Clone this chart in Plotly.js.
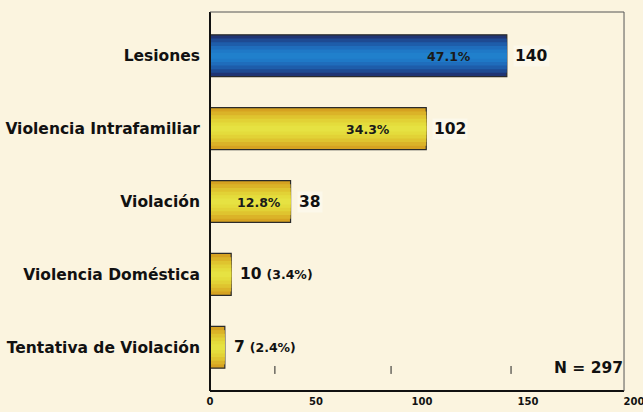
<!DOCTYPE html>
<html>
<head>
<meta charset="utf-8">
<script src="https://cdn.plot.ly/plotly-3.0.1.min.js"></script>
<style>html,body{margin:0;padding:0;background:#FBF4DF;}#chart{width:643px;height:412px;}</style>
</head>
<body>
<div id="chart"></div>
<script>
const categories = ["Lesiones", "Violencia Intrafamiliar", "Violación", "Violencia Doméstica", "Tentativa de Violación"];
const counts = [140, 102, 38, 10, 7];
const percents = [47.1, 34.3, 12.8, 3.4, 2.4];
const tickValues = [0, 50, 100, 150, 200];
const totalN = 297;

const bluePalette = ["#1F3474", "#1E4A92", "#1E5DAA", "#1F6DBC", "#1F79C7", "#2080CC"];
const goldPalette = ["#D6A221", "#DBB328", "#DFC42F", "#E2D236", "#E4DC3C", "#E6E242"];
const widths = [0.575, 0.47, 0.37, 0.27, 0.17, 0.08];

const traces = widths.map((w, i) => ({
  type: "bar",
  orientation: "h",
  x: counts,
  y: categories,
  width: w,
  marker: {
    color: counts.map((c, j) => j === 0 ? bluePalette[i] : goldPalette[i]),
    line: {width: i === 0 ? 1.2 : 0, color: "#2a2a2a"}
  },
  hoverinfo: "skip",
  showlegend: false
}));

const annotations = [];
categories.forEach((cat, j) => {
  const inside = percents[j] > 10;
  if (inside) {
    annotations.push({
      x: counts[j], y: cat, xref: "x", yref: "y",
      text: "<b>" + percents[j].toFixed(1) + "%</b>",
      xanchor: "right", xshift: counts[j] > 50 ? -34 : -8, yshift: -1,
      showarrow: false,
      font: {family: "DejaVu Sans", size: 12.5, color: "#1a1a1a"}
    });
    annotations.push({
      x: counts[j], y: cat, xref: "x", yref: "y",
      text: "<b>" + counts[j] + "</b>",
      xanchor: "left", xshift: 6, yshift: 0,
      showarrow: false, bgcolor: "#FCF8EA",
      font: {family: "DejaVu Sans", size: 15.5, color: "#111"}
    });
  } else {
    annotations.push({
      x: counts[j], y: cat, xref: "x", yref: "y",
      text: "<b>" + counts[j] + "</b> <b><span style='font-size:12.5px'>(" + percents[j].toFixed(1) + "%)</span></b>",
      xanchor: "left", xshift: 7, yshift: 0,
      showarrow: false,
      font: {family: "DejaVu Sans", size: 15.5, color: "#111"}
    });
  }
});
annotations.push({
  x: 0.971, y: 0.061, xref: "paper", yref: "paper",
  text: "<b>N = " + totalN + "</b>",
  xanchor: "right", yanchor: "middle", showarrow: false,
  font: {family: "DejaVu Sans", size: 15.5, color: "#111"}
});

const fx = 0.9696;
const shapes = [
  {type: "line", xref: "paper", yref: "paper", x0: 0, x1: 0, y0: 0, y1: 1, line: {color: "#111", width: 2}},
  {type: "line", xref: "paper", yref: "paper", x0: 0, x1: fx, y0: 0, y1: 0, line: {color: "#111", width: 2}},
  {type: "line", xref: "paper", yref: "paper", x0: 0, x1: fx, y0: 1, y1: 1, line: {color: "#555", width: 1}},
  {type: "line", xref: "paper", yref: "paper", x0: fx, x1: fx, y0: 0, y1: 1, line: {color: "#555", width: 1}},
  {type: "line", xref: "paper", yref: "paper", x0: 0.152, x1: 0.152, y0: 0.045, y1: 0.066, line: {color: "#222", width: 1}},
  {type: "line", xref: "paper", yref: "paper", x0: 0.424, x1: 0.424, y0: 0.045, y1: 0.066, line: {color: "#222", width: 1}},
  {type: "line", xref: "paper", yref: "paper", x0: 0.705, x1: 0.705, y0: 0.045, y1: 0.066, line: {color: "#222", width: 1}}
];

const layout = {
  width: 643, height: 412,
  paper_bgcolor: "#FBF4DF", plot_bgcolor: "#FBF4DF",
  margin: {l: 210, r: 6, t: 12, b: 21},
  barmode: "overlay",
  showlegend: false,
  xaxis: {
    range: [0, 201.4], tickvals: tickValues, ticktext: tickValues.map(v => "<b>" + v + "</b>"),
    showgrid: false, zeroline: false, showline: false, ticks: "",
    ticklabeloverflow: "allow",
    tickfont: {family: "DejaVu Sans", size: 10, color: "#111"}, ticklabelstandoff: 3, fixedrange: true
  },
  yaxis: {
    type: "category", categoryorder: "array", categoryarray: categories,
    range: [4.6, -0.6], showgrid: false, zeroline: false, showline: false, ticks: "",
    ticklabelstandoff: 9,
    tickfont: {family: "DejaVu Sans", size: 15.5, color: "#111", weight: "bold"}, fixedrange: true
  },
  annotations: annotations,
  shapes: shapes
};

Plotly.newPlot("chart", traces, layout, {displayModeBar: false, staticPlot: true});
</script>
</body>
</html>
